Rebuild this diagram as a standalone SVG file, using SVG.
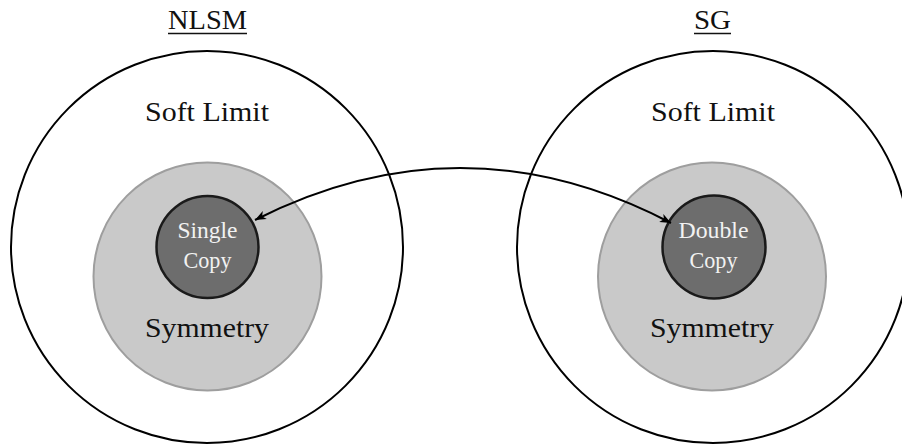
<svg xmlns="http://www.w3.org/2000/svg" width="902" height="445" viewBox="0 0 902 445">
<style>
.outer{fill:none;stroke:#000;stroke-width:2}
.mid{fill:#c9c9c9;stroke:#9e9e9e;stroke-width:2}
.inner{fill:#6d6d6d;stroke:#1a1a1a;stroke-width:2.5}
.t{font-family:"Liberation Serif","DejaVu Serif",serif;font-size:27px;fill:#111;text-anchor:middle}
.w{font-family:"Liberation Serif","DejaVu Serif",serif;font-size:24px;fill:#f2f2f2;text-anchor:middle}
.ul{stroke:#111;stroke-width:1.5}
.conn{fill:none;stroke:#000;stroke-width:2}
</style>
<defs>
<marker id="stealth" markerUnits="userSpaceOnUse" markerWidth="14" markerHeight="12" viewBox="-12 -6 14 12" refX="0" refY="0" orient="auto-start-reverse">
<path d="M0,0 L-11,-4.5 L-8,0 L-11,4.5 Z" fill="#000"/>
</marker>
</defs>
<rect width="902" height="445" fill="#fff"/>
<g id="nlsm">
<circle class="outer" cx="207" cy="247" r="196"/>
<circle class="mid" cx="207.5" cy="276.5" r="114"/>
<text class="t" x="207.5" y="29" textLength="79" lengthAdjust="spacingAndGlyphs">NLSM</text>
<line class="ul" x1="168" y1="33.5" x2="247" y2="33.5"/>
<text class="t" x="207" y="121" textLength="124" lengthAdjust="spacingAndGlyphs">Soft Limit</text>
<text class="t" x="207" y="337" textLength="124" lengthAdjust="spacingAndGlyphs">Symmetry</text>
</g>
<g id="single-copy">
<circle class="inner" cx="207.5" cy="247" r="51"/>
<text class="w" x="207.5" y="238" textLength="60" lengthAdjust="spacingAndGlyphs">Single</text>
<text class="w" x="207.5" y="268" textLength="48" lengthAdjust="spacingAndGlyphs">Copy</text>
</g>
<g id="sg">
<circle class="outer" cx="713" cy="247" r="196"/>
<circle class="mid" cx="712" cy="276.5" r="114"/>
<text class="t" x="712.5" y="29" textLength="37" lengthAdjust="spacingAndGlyphs">SG</text>
<line class="ul" x1="694" y1="33.5" x2="731" y2="33.5"/>
<text class="t" x="713" y="121" textLength="124" lengthAdjust="spacingAndGlyphs">Soft Limit</text>
<text class="t" x="712" y="337" textLength="124" lengthAdjust="spacingAndGlyphs">Symmetry</text>
</g>
<g id="double-copy">
<circle class="inner" cx="714" cy="247" r="51.5"/>
<text class="w" x="713.5" y="238" textLength="70" lengthAdjust="spacingAndGlyphs">Double</text>
<text class="w" x="713.5" y="268" textLength="48" lengthAdjust="spacingAndGlyphs">Copy</text>
</g>
<g id="connectors">
<path class="conn" d="M255,220 Q463,114.5 671,223" marker-start="url(#stealth)" marker-end="url(#stealth)"/>
</g>
</svg>
